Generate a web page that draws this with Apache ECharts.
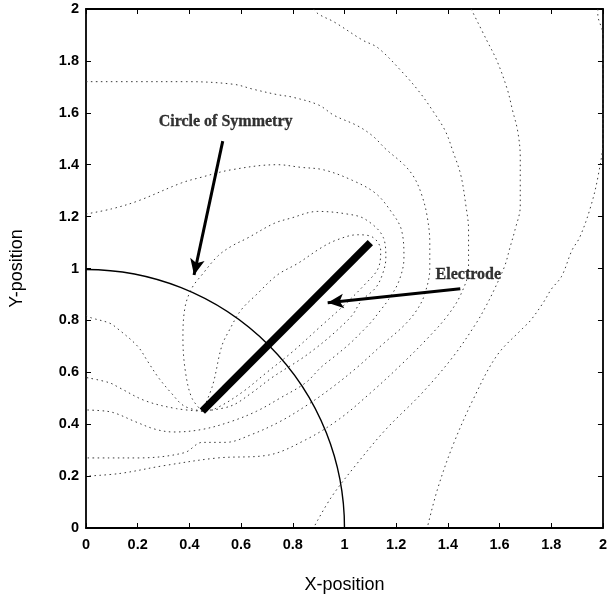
<!DOCTYPE html>
<html>
<head>
<meta charset="utf-8">
<script src="https://cdn.jsdelivr.net/npm/echarts@6/dist/echarts.min.js"></script>
<style>
html,body{margin:0;padding:0;background:#fff;}
#chart{width:610px;height:599px;}
</style>
</head>
<body>
<div id="chart"></div>
<script>
// ---- data ----
const xRange = [0, 2];
const yRange = [0, 2];
const tickStep = 0.2;
const xTitle = 'X-position';
const yTitle = 'Y-position';

const circleCenter = [0, 0];
const circleRadius = 1;

const electrode = [[0.45, 0.45], [1.1, 1.1]];

// contour loops around the electrode (read point by point)
const contourL0 = [[0.45,0.45],[0.49,0.55],[0.525,0.70],[0.556,0.765],[0.60,0.84],[0.66,0.90],[0.74,0.975],[0.82,1.02],[0.91,1.08],[0.97,1.11],[1.05,1.13],[1.11,1.12],[1.14,1.07],[1.13,1.0],[1.08,0.94],[1.0,0.86],[0.9,0.77],[0.8,0.68],[0.7,0.6],[0.6,0.52],[0.5,0.46],[0.45,0.45]];
const contourL1 = [[0.45,0.45],[0.41,0.50],[0.385,0.60],[0.375,0.73],[0.383,0.85],[0.41,0.925],[0.448,0.975],[0.51,1.048],[0.563,1.086],[0.624,1.117],[0.728,1.174],[0.789,1.193],[0.897,1.22],[1.01,1.21],[1.08,1.19],[1.15,1.12],[1.16,1.04],[1.146,0.975],[1.12,0.925],[1.065,0.875],[1.03,0.82],[0.98,0.77],[0.935,0.73],[0.885,0.69],[0.83,0.65],[0.72,0.58],[0.64,0.52],[0.56,0.47],[0.45,0.45]];
const contourL2 = [[0,1.21],[0.10,1.23],[0.20,1.26],[0.37,1.33],[0.44,1.35],[0.56,1.38],[0.74,1.40],[0.83,1.39],[0.92,1.38],[1.03,1.34],[1.12,1.29],[1.18,1.22],[1.22,1.15],[1.23,1.04],[1.21,0.95],[1.17,0.88],[1.14,0.84],[1.10,0.79],[1.057,0.746],[1.02,0.71],[0.96,0.66],[0.91,0.62],[0.85,0.56],[0.75,0.50],[0.66,0.45],[0.56,0.41],[0.45,0.38],[0.34,0.37],[0.27,0.38],[0.19,0.41],[0.12,0.44],[0.08,0.45],[0,0.455]];
const contourL3 = [[0,1.72],[0.2,1.72],[0.39,1.72],[0.57,1.71],[0.65,1.69],[0.74,1.67],[0.80,1.66],[0.90,1.63],[0.96,1.59],[1.05,1.55],[1.11,1.51],[1.16,1.46],[1.23,1.40],[1.27,1.35],[1.30,1.28],[1.32,1.20],[1.33,1.10],[1.33,1.0],[1.31,0.9],[1.28,0.84],[1.23,0.78],[1.15,0.71],[1.05,0.62],[0.95,0.54],[0.85,0.47],[0.75,0.41],[0.64,0.36],[0.54,0.33],[0.45,0.33],[0.38,0.29],[0.2,0.27],[0.09,0.27],[0,0.27]];
const contourL4 = [[0.88,2.0],[0.90,1.98],[0.96,1.95],[1.07,1.88],[1.13,1.85],[1.23,1.75],[1.29,1.68],[1.34,1.61],[1.39,1.53],[1.42,1.45],[1.45,1.36],[1.47,1.24],[1.48,1.15],[1.48,1.0],[1.45,0.9],[1.40,0.82],[1.33,0.74],[1.22,0.63],[1.10,0.52],[0.98,0.42],[0.85,0.34],[0.70,0.28],[0.51,0.27],[0.30,0.24],[0.13,0.21],[0,0.20]];
const contourL5 = [[1.49,2.0],[1.55,1.88],[1.59,1.80],[1.63,1.69],[1.65,1.61],[1.67,1.53],[1.68,1.43],[1.68,1.34],[1.68,1.24],[1.66,1.15],[1.64,1.08],[1.62,1.01],[1.58,0.92],[1.55,0.86],[1.51,0.79],[1.42,0.66],[1.30,0.52],[1.16,0.38],[1.05,0.25],[0.95,0.12],[0.88,0]];
const contourL6 = [[1.98,2.0],[1.98,1.98],[2.0,1.9],[2.0,1.5],[1.98,1.35],[1.95,1.23],[1.91,1.12],[1.88,1.07],[1.84,0.97],[1.80,0.92],[1.77,0.87],[1.72,0.80],[1.69,0.77],[1.59,0.665],[1.50,0.50],[1.42,0.32],[1.36,0.15],[1.32,0]];
const contourT1 = [[0.45,0.45],[0.38,0.47],[0.33,0.52],[0.28,0.58],[0.24,0.64],[0.20,0.70],[0.12,0.77],[0.09,0.79],[0.02,0.81],[0,0.82]];
const contourT2 = [[0.45,0.45],[0.35,0.46],[0.23,0.49],[0.13,0.54],[0.09,0.56],[0,0.58]];
const contours = [contourL0, contourL1, contourL2, contourL3, contourL4, contourL5, contourL6, contourT1, contourT2];

// annotations
const noteTexts = ['Circle of Symmetry', 'Electrode'];
const notePositions = [[0.54, 1.564], [1.479, 0.975]];
const arrowStarts = [[0.529, 1.491], [1.448, 0.922]];
const arrowEnds = [[0.418, 0.975], [0.935, 0.868]];

// ---- chart ----
const chart = echarts.init(document.getElementById('chart'), null, {renderer: 'canvas'});
const tickFont = {fontFamily: 'Liberation Sans, Arial, sans-serif', fontWeight: 'bold', fontSize: 14.5, color: '#000'};

function axisBase(extra) {
  return Object.assign({
    type: 'value', min: xRange[0], max: xRange[1], interval: tickStep,
    splitLine: {show: false},
    axisLine: {show: true, onZero: false, lineStyle: {color: '#000', width: 1.8}},
    axisTick: {show: true, inside: true, length: 5, lineStyle: {color: '#000', width: 1}},
  }, extra);
}

const series = [];
contours.forEach((c, i) => {
  series.push({
    type: 'line', data: c, showSymbol: false, smooth: 0.35, silent: true,
    xAxisIndex: 0, yAxisIndex: 0, clip: true,
    lineStyle: {color: '#3a3a3a', width: 1, type: [1.5, 3.5]}, z: 2
  });
});
// circle of symmetry (custom arc through the axes' scales)
series.push({
  type: 'custom', xAxisIndex: 0, yAxisIndex: 0, silent: true, clip: true,
  data: [[circleCenter[0], circleCenter[1], circleRadius]],
  renderItem: function (params, api) {
    const c = api.coord([api.value(0), api.value(1)]);
    const r = api.size([api.value(2), 0])[0];
    return {
      type: 'arc',
      shape: {cx: c[0], cy: c[1], r: r, startAngle: -Math.PI / 2, endAngle: 0},
      style: {stroke: '#000', lineWidth: 1.4, fill: null}
    };
  },
  z: 3
});
// electrode
series.push({
  type: 'line', data: electrode, showSymbol: false, silent: true,
  lineStyle: {color: '#000', width: 7.5, cap: 'butt'}, z: 4
});
// annotations
series.push({
  type: 'scatter', silent: true, symbolSize: 0,
  data: notePositions.map((p, i) => ({value: p, name: noteTexts[i]})),
  label: {
    show: true, position: 'inside', formatter: '{b}',
    fontFamily: 'Liberation Serif, Times New Roman, serif', fontWeight: 'bold', fontSize: 16, color: '#000',
    textBorderColor: '#000', textBorderWidth: 0.3
  },
  markLine: {
    silent: true, symbol: ['none', 'arrow'], symbolSize: [11, 16],
    label: {show: false},
    lineStyle: {color: '#000', width: 3, type: 'solid', opacity: 1},
    data: arrowStarts.map((s, i) => [{coord: s}, {coord: arrowEnds[i]}]),
    animation: false
  },
  z: 5
});

chart.setOption({
  animation: false,
  backgroundColor: '#fff',
  grid: {left: 84, right: 4, top: 9, bottom: 67, containLabel: false},
  xAxis: [
    axisBase({position: 'bottom', name: xTitle, nameLocation: 'middle', nameGap: 48,
      nameTextStyle: {fontFamily: 'Liberation Sans, Arial, sans-serif', fontSize: 18, color: '#000'},
      axisLabel: Object.assign({margin: 9}, tickFont)}),
    axisBase({position: 'top', axisLabel: {show: false}})
  ],
  yAxis: [
    axisBase({min: yRange[0], max: yRange[1], position: 'left', name: yTitle, nameLocation: 'middle', nameGap: 60,
      nameTextStyle: {fontFamily: 'Liberation Sans, Arial, sans-serif', fontSize: 18, color: '#000'},
      axisLabel: Object.assign({margin: 7}, tickFont)}),
    axisBase({min: yRange[0], max: yRange[1], position: 'right', axisLabel: {show: false}})
  ],
  series: series
});
</script>
</body>
</html>
